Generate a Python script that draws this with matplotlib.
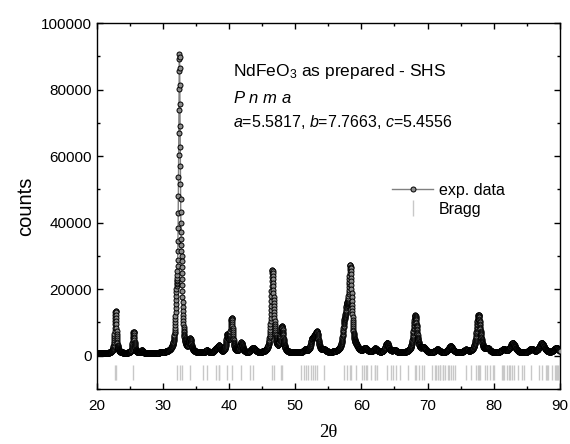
import numpy as np
import matplotlib
matplotlib.use("Agg")
import matplotlib.pyplot as plt
from matplotlib.lines import Line2D
from matplotlib.ticker import MultipleLocator

plt.rcParams['font.family'] = ['Liberation Sans', 'DejaVu Sans']
plt.rcParams['mathtext.fontset'] = 'custom'
plt.rcParams['mathtext.rm'] = 'Liberation Sans'
plt.rcParams['mathtext.it'] = 'Liberation Sans:italic'

# peaks: position (2theta), height above background (counts), fwhm (deg)
peak_pos = [22.83, 25.55, 26.80, 32.04, 32.48, 32.81, 34.11, 36.64, 38.00, 38.47,
            39.74, 40.38, 41.84, 43.64, 46.52, 46.78, 47.89, 48.05, 51.50, 52.55,
            52.91, 53.30, 54.31, 57.41, 57.80, 58.33, 59.26, 60.60, 62.10, 63.88,
            65.00, 68.15, 69.40, 71.50, 73.50, 75.80, 77.72, 79.10, 81.50, 82.90,
            85.70, 87.29, 89.50]
peak_height = [12700, 6500, 800, 11500, 86000, 14000, 3600, 700, 1000, 2000,
               5000, 10200, 3000, 1500, 23000, 5000, 4200, 4200, 800, 3000,
               2500, 5300, 800, 5500, 8500, 24500, 800, 1200, 1200, 3000,
               800, 11300, 1300, 1000, 2000, 800, 11500, 1100, 1000, 3000,
               1200, 3000, 1600]
peak_fwhm = [0.32, 0.32, 0.35, 0.35, 0.32, 0.35, 0.42, 0.5, 0.5, 0.42,
             0.42, 0.42, 0.48, 0.7, 0.42, 0.42, 0.48, 0.48, 0.6, 0.55,
             0.55, 0.55, 0.6, 0.55, 0.55, 0.55, 0.6, 0.7, 0.7, 0.6,
             0.7, 0.65, 0.7, 0.8, 0.8, 0.7, 0.7, 0.7, 0.8, 0.9,
             0.8, 0.9, 0.9]
background = 650
two_theta_range = (20.0, 90.0)
step = 0.02

# Bragg reflections for Pnma, a=5.5817 b=7.7663 c=5.4556
bragg_pos = [22.77, 22.88, 25.53, 32.04, 32.51, 32.81, 34.11, 36.12, 36.64, 37.99, 38.46, 38.49,
             39.74, 40.38, 41.84, 43.19, 43.64, 46.52, 46.75, 47.89, 48.05, 50.90, 51.29, 51.58,
             51.88, 52.45, 52.61, 52.91, 53.30, 54.31, 57.41, 57.80, 58.28, 58.37, 59.26, 60.15,
             60.46, 60.74, 60.82, 61.44, 62.02, 62.08, 62.35, 63.88, 64.52, 64.79, 65.23, 65.79,
             67.01, 68.08, 68.23, 68.77, 69.16, 69.47, 70.67, 71.10, 71.30, 71.59, 71.83, 71.91,
             72.28, 72.39, 72.64, 73.04, 73.25, 73.54, 73.82, 74.22, 75.80, 76.64, 77.31, 77.66,
             77.80, 77.90, 78.68, 79.05, 79.46, 79.98, 80.00, 81.24, 81.42, 81.55, 81.99, 82.40,
             82.47, 82.79, 83.04, 83.62, 84.29, 84.60, 85.66, 86.91, 87.29, 87.94, 88.13, 88.18,
             88.90, 89.31, 89.48, 89.55, 89.67]
bragg_span = (-2700, -7300)


def pattern(x):
    y = np.full_like(x, background, dtype=float)
    eta = 0.8
    for p, h, w in zip(peak_pos, peak_height, peak_fwhm):
        d = (x - p) / (w / 2)
        lor = 1 / (1 + d ** 2)
        gau = np.exp(-np.log(2) * d ** 2)
        y += h * (eta * lor + (1 - eta) * gau)
    return y


def main():
    x = np.arange(two_theta_range[0], two_theta_range[1] + step / 2, step)
    y = pattern(x)

    fig = plt.figure(figsize=(5.7, 4.44), dpi=100)
    ax = fig.add_axes([0.170, 0.124, 0.812, 0.824])

    ax.plot(x, y, color='#808080', lw=1.0, marker='o', ms=3.6, mfc='#8c8c8c',
            mec='black', mew=0.7, zorder=3)
    ax.vlines(bragg_pos, bragg_span[1], bragg_span[0], color='#c8c8c8', lw=1.0)

    ax.set_xlim(20, 90)
    ax.set_ylim(-10000, 100000)
    ax.xaxis.set_major_locator(MultipleLocator(10))
    ax.xaxis.set_minor_locator(MultipleLocator(5))
    ax.yaxis.set_major_locator(MultipleLocator(20000))
    ax.yaxis.set_minor_locator(MultipleLocator(10000))
    ax.tick_params(which='both', direction='in', top=True, right=True, labelsize=11)
    ax.tick_params(axis='x', which='both', pad=7)
    ax.tick_params(which='major', length=4, width=1)
    ax.tick_params(which='minor', length=2.5, width=1)
    for s in ax.spines.values():
        s.set_linewidth(1.0)

    ax.set_ylabel('counts', fontsize=14.5, labelpad=4)
    ax.set_xlabel('2θ', fontsize=13.5, family=['Liberation Serif', 'DejaVu Serif'], labelpad=8)

    ax.text(40.6, 85400, 'NdFeO$_3$ as prepared - SHS', fontsize=12.5, va='center')
    ax.text(40.6, 77600, '$\\it{P\\ n\\ m\\ a}$', fontsize=12, va='center')
    ax.text(40.6, 70300, '$\\it{a}$=5.5817, $\\it{b}$=7.7663, $\\it{c}$=5.4556',
            fontsize=11.5, va='center')

    handles = [Line2D([], [], color='#808080', lw=1.0, marker='o', ms=3.6,
                      mfc='#8c8c8c', mec='black', mew=0.7),
               Line2D([], [], color='#c8c8c8', lw=0, marker='|', ms=12, mew=1.0)]
    ax.legend(handles, ['exp. data', 'Bragg'], loc='upper left',
              bbox_to_anchor=(0.62, 0.585), frameon=False, fontsize=11.5,
              handlelength=2.6, handletextpad=0.35, borderpad=0, labelspacing=0.25,
              numpoints=1)

    fig.savefig('out.png', dpi=100)


if __name__ == '__main__':
    main()
